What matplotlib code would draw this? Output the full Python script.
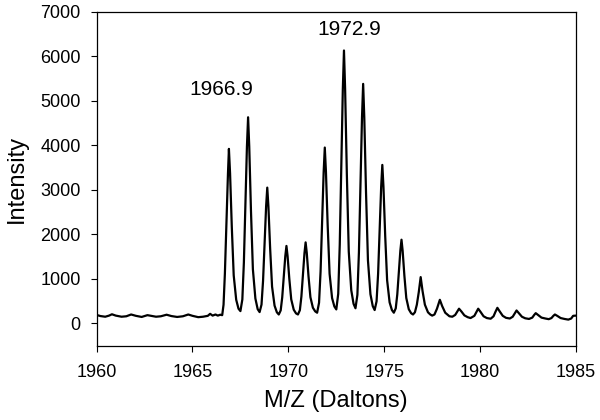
import matplotlib
matplotlib.use("Agg")
import matplotlib.pyplot as plt

plt.rcParams['font.family'] = ['Liberation Sans', 'DejaVu Sans']

# Spectrum trace (m/z, intensity)
mz = [
    1960.00, 1960.20, 1960.45, 1960.65, 1960.80, 1961.00, 1961.30, 1961.55, 1961.80,
    1962.05, 1962.35, 1962.65, 1962.85, 1963.10, 1963.35, 1963.65, 1963.90, 1964.20,
    1964.50, 1964.78, 1965.00, 1965.30, 1965.55, 1965.80, 1965.92, 1966.05, 1966.20,
    1966.32, 1966.45, 1966.55,
    1966.62, 1966.69, 1966.77, 1966.85, 1966.90, 1966.96, 1967.05, 1967.15, 1967.28, 1967.40, 1967.50,
    1967.60, 1967.68, 1967.76, 1967.84, 1967.90, 1967.96, 1968.05, 1968.15, 1968.28, 1968.40, 1968.50,
    1968.60, 1968.68, 1968.76, 1968.84, 1968.90, 1968.96, 1969.05, 1969.15, 1969.28, 1969.40, 1969.50,
    1969.60, 1969.68, 1969.76, 1969.84, 1969.90, 1969.96, 1970.05, 1970.15, 1970.28, 1970.40, 1970.50,
    1970.60, 1970.68, 1970.76, 1970.84, 1970.90, 1970.96, 1971.05, 1971.15, 1971.28, 1971.40, 1971.50,
    1971.60, 1971.68, 1971.76, 1971.84, 1971.90, 1971.96, 1972.05, 1972.15, 1972.28, 1972.40, 1972.50,
    1972.60, 1972.68, 1972.76, 1972.84, 1972.90, 1972.96, 1973.05, 1973.15, 1973.28, 1973.40, 1973.50,
    1973.60, 1973.68, 1973.76, 1973.84, 1973.90, 1973.96, 1974.05, 1974.15, 1974.28, 1974.40, 1974.50,
    1974.60, 1974.68, 1974.76, 1974.84, 1974.90, 1974.96, 1975.05, 1975.15, 1975.28, 1975.40, 1975.50,
    1975.60, 1975.68, 1975.76, 1975.84, 1975.90, 1975.96, 1976.05, 1976.15, 1976.28, 1976.40, 1976.50,
    1976.60, 1976.70, 1976.80, 1976.90, 1977.00, 1977.12, 1977.28, 1977.40, 1977.50,
    1977.62, 1977.75, 1977.90, 1978.02, 1978.18, 1978.40, 1978.55,
    1978.70, 1978.80, 1978.90, 1979.02, 1979.18, 1979.35, 1979.50,
    1979.70, 1979.80, 1979.90, 1980.02, 1980.18, 1980.35, 1980.55,
    1980.70, 1980.80, 1980.90, 1981.02, 1981.18, 1981.35, 1981.55,
    1981.70, 1981.80, 1981.90, 1982.02, 1982.18, 1982.35, 1982.55,
    1982.72, 1982.82, 1982.90, 1983.02, 1983.20, 1983.40, 1983.58,
    1983.72, 1983.82, 1983.90, 1984.02, 1984.20, 1984.40, 1984.60, 1984.75, 1984.85, 1985.00,
]
intensity = [
    190, 165, 150, 175, 205, 175, 150, 160, 200,
    170, 145, 185, 170, 150, 160, 195, 165, 145,
    160, 200, 170, 140, 150, 170, 215, 175, 200,
    175, 195, 185,
    420, 1120, 2240, 3360, 3920, 3373, 2171, 1078, 531, 330, 276,
    537, 1365, 2671, 3977, 4630, 3974, 2530, 1217, 560, 320, 254,
    422, 953, 1792, 2631, 3050, 2623, 1682, 827, 400, 250, 200,
    292, 585, 1047, 1509, 1740, 1509, 1001, 539, 308, 225, 200,
    297, 605, 1091, 1577, 1820, 1583, 1062, 588, 351, 270, 240,
    463, 1168, 2281, 3394, 3950, 3405, 2205, 1114, 569, 380, 314,
    663, 1768, 3513, 5258, 6130, 5262, 3351, 1614, 745, 440, 340,
    642, 1600, 3112, 4624, 5380, 4618, 2942, 1418, 656, 390, 300,
    496, 1115, 2093, 3071, 3560, 3062, 1966, 970, 472, 300, 240,
    338, 650, 1142, 1634, 1880, 1628, 1074, 570, 318, 230, 200,
    250, 420, 700, 1040, 720, 420, 250, 200, 175,
    200, 330, 530, 390, 240, 160, 150,
    190, 260, 330, 270, 180, 140, 120,
    170, 250, 330, 260, 160, 120, 105,
    160, 260, 350, 270, 170, 125, 110,
    150, 220, 290, 230, 150, 115, 100,
    130, 190, 230, 190, 130, 110, 95,
    120, 170, 200, 170, 120, 100, 85, 110, 170, 175,
]

annot_text = ["1966.9", "1972.9"]
annot_x = [1966.5, 1973.15]
annot_y = [5250, 6600]

x_ticks = [1960, 1965, 1970, 1975, 1980, 1985]
y_ticks = [0, 1000, 2000, 3000, 4000, 5000, 6000, 7000]

fig = plt.figure(figsize=(6, 4.2), dpi=100)
ax = fig.add_axes([0.161, 0.177, 0.799, 0.795])
ax.plot(mz, intensity, color='black', linewidth=1.6, solid_joinstyle='round')

for t, xx, yy in zip(annot_text, annot_x, annot_y):
    ax.text(xx, yy, t, ha='center', va='center', fontsize=15, color='black')

ax.set_xlim(1960, 1985)
ax.set_ylim(-500, 7000)
ax.set_xticks(x_ticks)
ax.set_yticks(y_ticks)
ax.tick_params(axis='both', direction='out', length=4.5, width=0.8, labelsize=13, color='black')
ax.tick_params(axis='x', pad=9)
ax.tick_params(axis='y', pad=7)
for s in ax.spines.values():
    s.set_linewidth(0.9)
    s.set_color('black')

ax.set_xlabel("M/Z (Daltons)", fontsize=17, labelpad=6)
ax.set_ylabel("Intensity", fontsize=17, labelpad=9)

fig.savefig("out.png", dpi=100)
